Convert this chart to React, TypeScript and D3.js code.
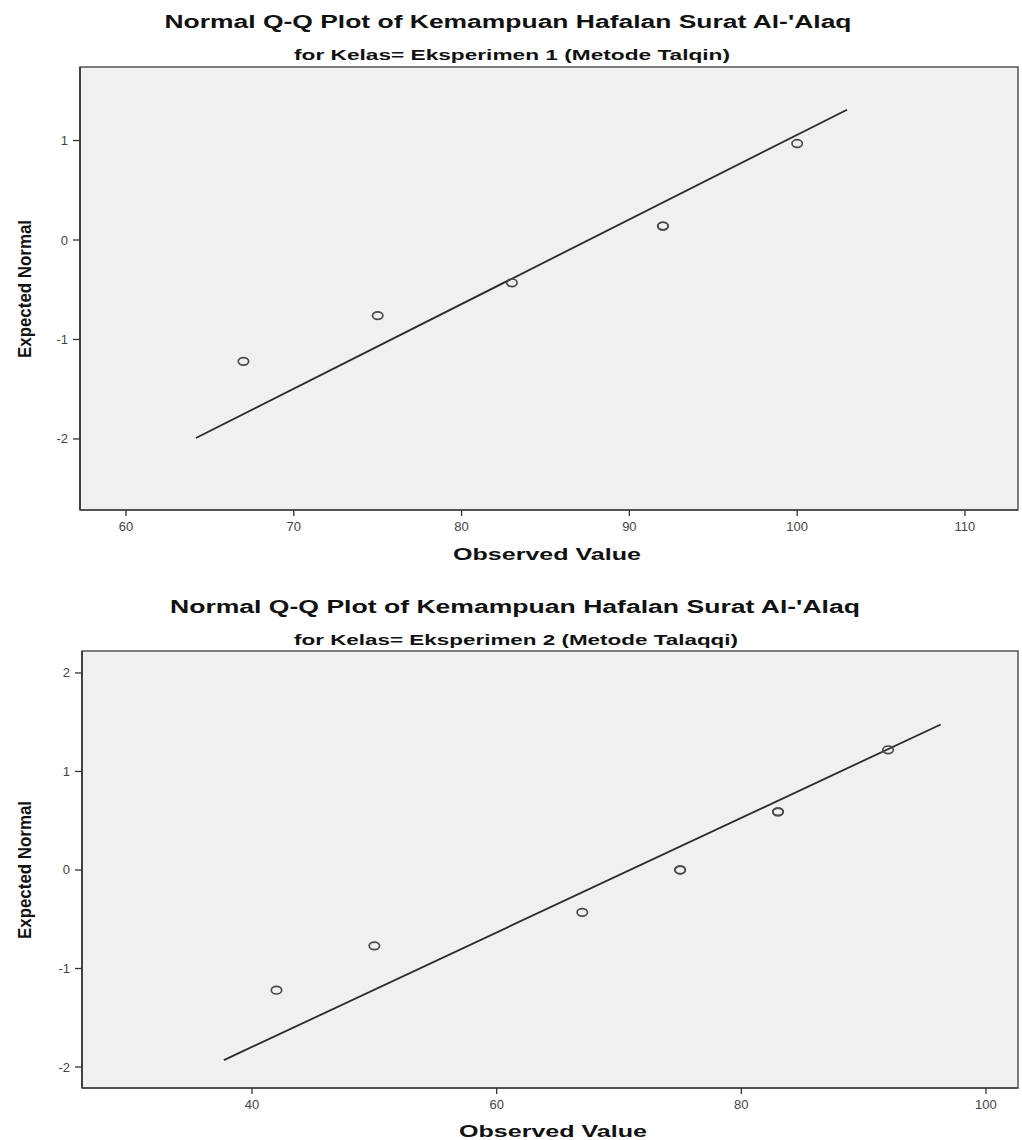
import React from "react";
import * as d3 from "d3";

// ---------- Data ----------
const titleText = "Normal Q-Q Plot of Kemampuan Hafalan Surat Al-'Alaq";
const subtitles = [
  "for Kelas= Eksperimen 1 (Metode Talqin)",
  "for Kelas= Eksperimen 2 (Metode Talaqqi)",
];
const xAxisLabel = "Observed Value";
const yAxisLabel = "Expected Normal";

// Chart 1 (Talqin)
const observed1 = [67, 75, 83, 92, 92, 100];
const expected1 = [-1.22, -0.76, -0.43, 0.14, 0.14, 0.97];
const xTicks1 = [60, 70, 80, 90, 100, 110];
const yTicks1 = [-2, -1, 0, 1];
const lineMean1 = 87.57;
const lineSd1 = 11.76;
const lineRange1 = [64.17, 102.97];

// Chart 2 (Talaqqi)
const observed2 = [42, 50, 67, 75, 75, 83, 83, 92];
const expected2 = [-1.22, -0.77, -0.43, 0, 0, 0.59, 0.59, 1.22];
const xTicks2 = [40, 60, 80, 100];
const yTicks2 = [-2, -1, 0, 1, 2];
const lineMean2 = 70.9;
const lineSd2 = 17.2;
const lineRange2 = [37.7, 96.3];

type Cfg = {
  observed: number[];
  expected: number[];
  xTicks: number[];
  yTicks: number[];
  mean: number;
  sd: number;
  lineRange: number[];
  xDomain: [number, number];
  yDomain: [number, number];
  box: { x0: number; x1: number; y0: number; y1: number };
  subtitle: string;
  titleY: number;
  titleCx: number;
  titleLen: number;
  subY: number;
  subCx: number;
  subLen: number;
  xlabY: number;
  xlabCx: number;
  ylabCy: number;
};

const charts: Cfg[] = [
  {
    observed: observed1,
    expected: expected1,
    xTicks: xTicks1,
    yTicks: yTicks1,
    mean: lineMean1,
    sd: lineSd1,
    lineRange: lineRange1,
    xDomain: [57.26, 113.16],
    yDomain: [-2.714, 1.739],
    box: { x0: 80, x1: 1018, y0: 67, y1: 510 },
    subtitle: subtitles[0],
    titleY: 28,
    titleCx: 508,
    titleLen: 687,
    subY: 60,
    subCx: 512,
    subLen: 436,
    xlabY: 560,
    xlabCx: 547,
    ylabCy: 289,
  },
  {
    observed: observed2,
    expected: expected2,
    xTicks: xTicks2,
    yTicks: yTicks2,
    mean: lineMean2,
    sd: lineSd2,
    lineRange: lineRange2,
    xDomain: [26.1, 102.62],
    yDomain: [-2.213, 2.223],
    box: { x0: 82, x1: 1018, y0: 651, y1: 1088 },
    subtitle: subtitles[1],
    titleY: 613,
    titleCx: 515,
    titleLen: 690,
    subY: 645,
    subCx: 516,
    subLen: 444,
    xlabY: 1137,
    xlabCx: 553,
    ylabCy: 870,
  },
];

function QQChart({ c }: { c: Cfg }) {
  const { box } = c;
  const x = d3.scaleLinear().domain(c.xDomain).range([box.x0, box.x1]);
  const y = d3.scaleLinear().domain(c.yDomain).range([box.y1, box.y0]);
  const linePts: [number, number][] = c.lineRange.map((v) => [v, (v - c.mean) / c.sd]);
  const lineGen = d3
    .line<[number, number]>()
    .x((d) => x(d[0]))
    .y((d) => y(d[1]));
  const tickFont = "Liberation Sans, Arial, sans-serif";
  return (
    <g>
      <text
        x={c.titleCx}
        y={c.titleY}
        textAnchor="middle"
        fontFamily="Liberation Sans, Arial, sans-serif"
        fontWeight="bold"
        fontSize={18}
        textLength={c.titleLen}
        lengthAdjust="spacingAndGlyphs"
        fill="#111"
      >
        {titleText}
      </text>
      <text
        x={c.subCx}
        y={c.subY}
        textAnchor="middle"
        fontFamily="Liberation Sans Narrow, Liberation Sans, Arial, sans-serif"
        fontWeight="bold"
        fontSize={15}
        textLength={c.subLen}
        lengthAdjust="spacingAndGlyphs"
        fill="#111"
      >
        {c.subtitle}
      </text>
      <rect
        x={box.x0}
        y={box.y0}
        width={box.x1 - box.x0}
        height={box.y1 - box.y0}
        fill="#f0f0f0"
        stroke="#555"
        strokeWidth={1.5}
      />
      <line x1={box.x0} x2={box.x1} y1={box.y1} y2={box.y1} stroke="#444" strokeWidth={1.6} />
      <line x1={box.x0} x2={box.x0} y1={box.y0} y2={box.y1} stroke="#333" strokeWidth={1.6} />
      {c.xTicks.map((t) => (
        <g key={"xt" + t}>
          <line x1={x(t)} x2={x(t)} y1={box.y1} y2={box.y1 + 6} stroke="#333" strokeWidth={1.3} />
          <text
            x={x(t)}
            y={box.y1 + 21}
            textAnchor="middle"
            fontFamily={tickFont}
            fontSize={13}
            fill="#444"
          >
            {t}
          </text>
        </g>
      ))}
      {c.yTicks.map((t) => (
        <g key={"yt" + t}>
          <line x1={box.x0 - 7} x2={box.x0} y1={y(t)} y2={y(t)} stroke="#333" strokeWidth={1.3} />
          <text
            x={box.x0 - 12}
            y={y(t) + 4.5}
            textAnchor="end"
            fontFamily={tickFont}
            fontSize={13}
            fill="#444"
          >
            {t}
          </text>
        </g>
      ))}
      <path d={lineGen(linePts) || ""} fill="none" stroke="#2a2a2a" strokeWidth={1.8} />
      {c.observed.map((o, i) => (
        <ellipse
          key={"p" + i}
          cx={x(o)}
          cy={y(c.expected[i])}
          rx={5.2}
          ry={3.8}
          fill="none"
          stroke="#4a4a4a"
          strokeWidth={1.7}
        />
      ))}
      <text
        x={c.xlabCx}
        y={c.xlabY}
        textAnchor="middle"
        fontFamily="Liberation Sans, Arial, sans-serif"
        fontWeight="bold"
        fontSize={17}
        textLength={188}
        lengthAdjust="spacingAndGlyphs"
        fill="#111"
      >
        {xAxisLabel}
      </text>
      <text
        transform={`translate(31,${c.ylabCy}) rotate(-90)`}
        textAnchor="middle"
        fontFamily="Liberation Sans Narrow, Liberation Sans, Arial, sans-serif"
        fontWeight="bold"
        fontSize={18}
        textLength={138}
        lengthAdjust="spacingAndGlyphs"
        fill="#111"
      >
        {yAxisLabel}
      </text>
    </g>
  );
}

export default function App() {
  return (
    <svg
      width={1022}
      height={1140}
      style={{ position: "absolute", left: 0, top: 0, background: "#fff" }}
    >
      <rect x={0} y={0} width={1022} height={1140} fill="#fff" />
      {charts.map((c, i) => (
        <QQChart key={i} c={c} />
      ))}
    </svg>
  );
}
